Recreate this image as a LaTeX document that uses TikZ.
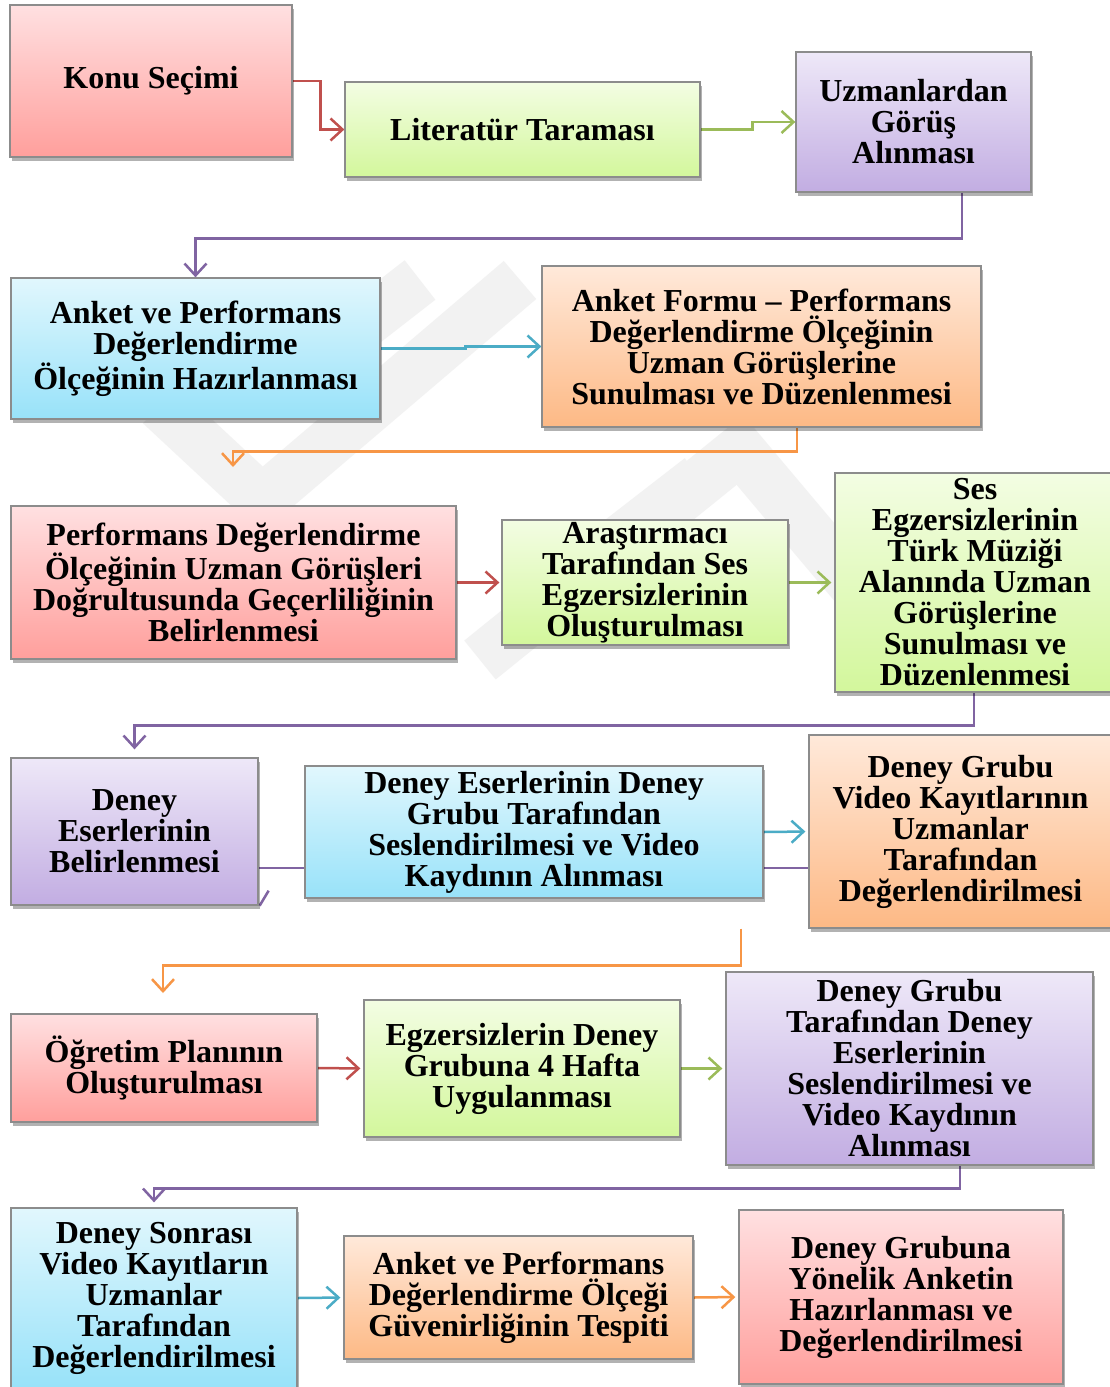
\documentclass[tikz,border=0pt]{standalone}
\usepackage{fontspec}
\setmainfont{Liberation Serif}
\usetikzlibrary{arrows.meta,shadows}
\pgfdeclarelayer{wm}
\pgfdeclarelayer{bg}
\pgfsetlayers{wm,bg,main}
\definecolor{cred}{HTML}{C0504D}
\definecolor{cgreen}{HTML}{9BBB59}
\definecolor{cpurple}{HTML}{8064A2}
\definecolor{cblue}{HTML}{4BACC6}
\definecolor{corange}{HTML}{F79646}
\definecolor{redT}{HTML}{FFE0E1}
\definecolor{redB}{HTML}{FF9F9C}
\definecolor{grnT}{HTML}{F3FDE3}
\definecolor{grnB}{HTML}{D3F79C}
\definecolor{purT}{HTML}{EEE8F8}
\definecolor{purB}{HTML}{C2ADE2}
\definecolor{bluT}{HTML}{E1F7FD}
\definecolor{bluB}{HTML}{98E2F9}
\definecolor{orgT}{HTML}{FFE9DA}
\definecolor{orgB}{HTML}{FDB985}
\tikzset{
  box/.style={draw=black!45, line width=1.3pt, align=center, inner sep=2pt,
    font=\bfseries\fontsize{32}{31}\selectfont,
    drop shadow={shadow xshift=2pt, shadow yshift=-4pt, opacity=0.3, fill=black}},
  redbox/.style={box, top color=redT, bottom color=redB},
  grnbox/.style={box, top color=grnT, bottom color=grnB},
  purbox/.style={box, top color=purT, bottom color=purB},
  blubox/.style={box, top color=bluT, bottom color=bluB},
  orgbox/.style={box, top color=orgT, bottom color=orgB},
  conn/.style={line width=2.5pt, -{Straight Barb[length=12pt,width=22pt]}},
  plain/.style={line width=2.5pt},
  wmark/.style={line width=50pt, black!5}
}
\begin{document}
\begin{tikzpicture}[x=1pt,y=-1pt]
\useasboundingbox (0,0) rectangle (1110,1387);
\clip (0,0) rectangle (1110,1387);

% nodes
\node[redbox, minimum width=282pt, minimum height=152pt] (konu) at (151,81) {Konu Seçimi};
\node[grnbox, minimum width=355pt, minimum height=95pt] (lit) at (522.5,129.5) {Literatür Taraması};
\node[purbox, minimum width=235pt, minimum height=140pt] (uzm) at (913.5,122) {Uzmanlardan\\Görüş\\Alınması};
\node[blubox, minimum width=369pt, minimum height=141pt] (ankhaz) at (195.5,348.5) {Anket ve Performans\\Değerlendirme\\Ölçeğinin Hazırlanması};
\node[orgbox, minimum width=439pt, minimum height=161pt] (ankform) at (761.5,346.5) {Anket Formu – Performans\\Değerlendirme Ölçeğinin\\Uzman Görüşlerine\\Sunulması ve Düzenlenmesi};
\node[redbox, minimum width=445pt, minimum height=153pt] (perf) at (233.5,582.5) {Performans Değerlendirme\\Ölçeğinin Uzman Görüşleri\\Doğrultusunda Geçerliliğinin\\Belirlenmesi};
\node[grnbox, minimum width=286pt, minimum height=123pt] (aras) at (645,582.5) {Araştırmacı\\Tarafından Ses\\Egzersizlerinin\\Oluşturulması};
\node[grnbox, minimum width=280pt, minimum height=219pt] (ses) at (975,582.5) {Ses\\Egzersizlerinin\\Türk Müziği\\Alanında Uzman\\Görüşlerine\\Sunulması ve\\Düzenlenmesi};
\node[purbox, minimum width=247pt, minimum height=147pt] (deneyes) at (134.5,831.5) {Deney\\Eserlerinin\\Belirlenmesi};
\node[blubox, minimum width=458pt, minimum height=132pt] (deneyser) at (534,832) {Deney Eserlerinin Deney\\Grubu Tarafından\\Seslendirilmesi ve Video\\Kaydının Alınması};
\node[orgbox, minimum width=303pt, minimum height=193pt] (video) at (960.5,831.5) {Deney Grubu\\Video Kayıtlarının\\Uzmanlar\\Tarafından\\Değerlendirilmesi};
\node[redbox, minimum width=306pt, minimum height=108pt] (ogretim) at (164,1068) {Öğretim Planının\\Oluşturulması};
\node[grnbox, minimum width=316pt, minimum height=137pt] (egz) at (522,1068.5) {Egzersizlerin Deney\\Grubuna 4 Hafta\\Uygulanması};
\node[purbox, minimum width=367pt, minimum height=193pt] (denegrubu) at (909.5,1068.5) {Deney Grubu\\Tarafından Deney\\Eserlerinin\\Seslendirilmesi ve\\Video Kaydının\\Alınması};
\node[blubox, minimum width=286pt, minimum height=180pt] (sonrasi) at (154,1298) {Deney Sonrası\\Video Kayıtların\\Uzmanlar\\Tarafından\\Değerlendirilmesi};
\node[orgbox, minimum width=349pt, minimum height=123pt] (guven) at (518.5,1297.5) {Anket ve Performans\\Değerlendirme Ölçeği\\Güvenirliğinin Tespiti};
\node[redbox, minimum width=324pt, minimum height=174pt] (yonelik) at (901,1297) {Deney Grubuna\\Yönelik Anketin\\Hazırlanması ve\\Değerlendirilmesi};

% watermark
\begin{pgfonlayer}{wm}
\fill[white] (0,0) rectangle (1110,1387);
\draw[wmark, line join=miter] (160,405) -- (262,500) -- (520,280);
\draw[wmark, line join=miter] (480,660) -- (740,450) -- (900,640);
\draw[wmark] (420,280) -- (330,350);
\draw[wmark] (620,540) -- (700,478);
\end{pgfonlayer}

% connectors
\begin{pgfonlayer}{bg}
\draw[conn, cred] (konu.east) -- ++(28,0) |- (lit.west);
\draw[conn, cgreen] (lit.east) -- ++(52,0) |- (uzm.west);
\draw[conn, cpurple] ([xshift=48.5pt]uzm.south) -- ++(0,46) -| (ankhaz.north);
\draw[conn, cblue] (ankhaz.east) -- ++(85,0) |- (ankform.west);
\coordinate (t5) at (233,467);
\draw[conn, corange] ([xshift=35.5pt]ankform.south) -- ++(0,24) -| (t5);
\draw[conn, cred, shorten >=2pt] (perf.east) -- (aras.west);
\draw[conn, cgreen, shorten >=3pt] (aras.east) -- (ses.west);
\draw[conn, cpurple, shorten >=8pt] ([xshift=-1pt]ses.south) -- ++(0,33) -| (deneyes.north);
\draw[plain, cpurple] (deneyes.east |- 0,868) -- (video.west |- 0,868);
\draw[plain, cpurple] ([xshift=1pt]deneyes.south east) -- ++(9,-15);
\draw[conn, cblue, shorten >=3pt] (deneyser.east) -- (video.west);
\coordinate (t11) at (163,993);
\draw[conn, corange] ([xshift=-219.5pt]video.south) -- ++(0,37) -| (t11);
\draw[conn, cred, shorten >=3pt] (ogretim.east) -- (egz.west);
\draw[conn, cgreen, shorten >=3pt] (egz.east) -- (denegrubu.west);
\draw[conn, cpurple, shorten >=5pt] ([xshift=50.5pt]denegrubu.south) -- ++(0,23) -| (sonrasi.north);
\draw[conn, cblue, shorten >=3pt] (sonrasi.east) -- (guven.west);
\draw[conn, corange, shorten >=3pt] (guven.east) -- (yonelik.west);
\end{pgfonlayer}
\end{tikzpicture}
\end{document}
